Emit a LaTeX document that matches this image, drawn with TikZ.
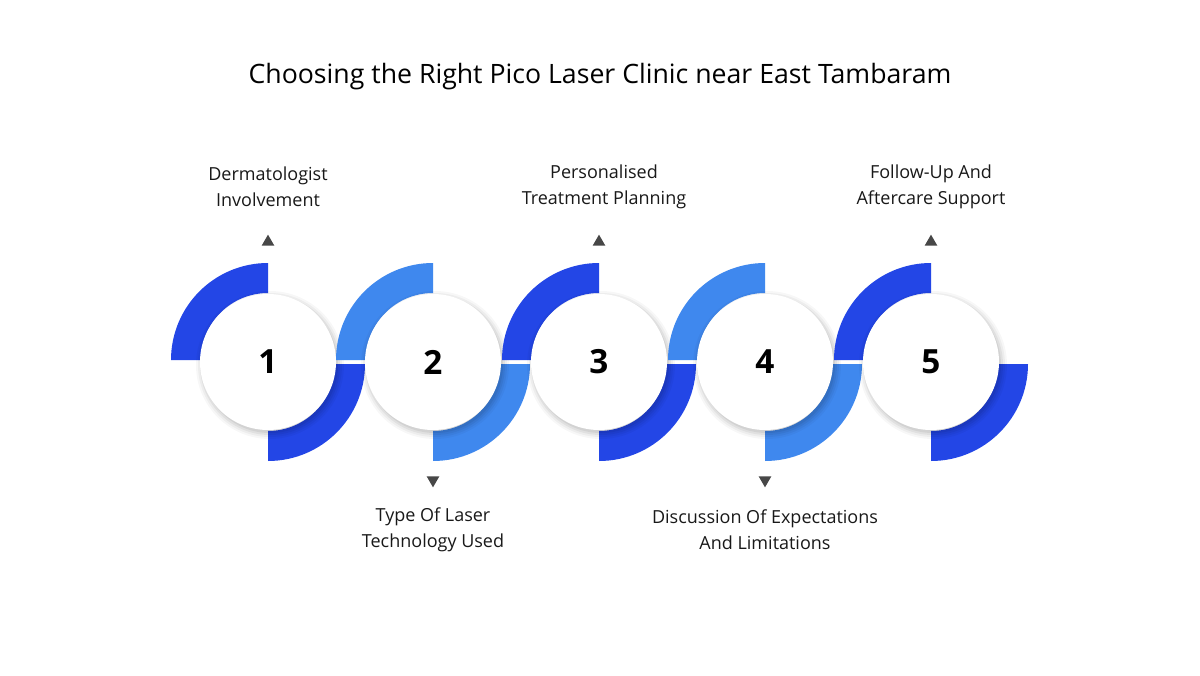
\documentclass[tikz,border=0pt]{standalone}
\usepackage{fontspec}
\setmainfont{Open Sans}
\usetikzlibrary{positioning,calc,shapes.geometric}
\definecolor{darkblue}{HTML}{2346E6}
\definecolor{lightblue}{HTML}{3F88EE}
\definecolor{tri}{HTML}{474747}
\tikzset{
  stepcircle/.style={circle, minimum size=102pt, inner sep=0, fill=white, font=\bfseries\fontsize{25}{25}\selectfont},
  steptext/.style={align=center, font=\fontsize{13.5}{19.5}\selectfont, text=black!90},
  marker/.style={regular polygon, regular polygon sides=3, fill=tri, inner sep=0, minimum size=11},
}
% quarter ring: centre, start angle, colour
\newcommand{\quart}[3]{%
  \fill[#3] ($(#1)+(#2:97)$) arc[start angle=#2, end angle=#2+90, radius=97]
    -- ($(#1)+(#2+90:67)$) arc[start angle=#2+90, end angle=#2, radius=67] -- cycle;}
\begin{document}
\begin{tikzpicture}[x=0.75pt, y=-0.75pt]
  \useasboundingbox (0,0) rectangle (1200,675);
  \fill[white] (0,0) rectangle (1200,675);
  \node[font=\fontsize{20}{24}\selectfont] (title) at (600,77) {Choosing the Right Pico Laser Clinic near East Tambaram};

  \foreach \i/\x/\col in {1/268/darkblue, 2/433/lightblue, 3/599/darkblue, 4/765/lightblue, 5/931/darkblue} {
    \coordinate (t\i) at (\x,360);
    \coordinate (b\i) at (\x,364);
    \quart{t\i}{180}{\col}
    \quart{b\i}{0}{\col}
    % soft shadow
    \foreach \r/\o in {74/0.03, 72/0.04, 70/0.05, 68/0.06}
      \fill[black, opacity=\o] (\x+2,365) circle[radius=\r];
    \node[stepcircle] (c\i) at (\x,362) {\i};
  }

  \node[marker] (m1) at (268,242) {};
  \node[marker] (m3) at (599,242) {};
  \node[marker] (m5) at (931,242) {};
  \node[marker, shape border rotate=180] (m2) at (433,480) {};
  \node[marker, shape border rotate=180] (m4) at (765,480) {};

  \node[steptext] (l1) at (268,187) {Dermatologist\\Involvement};
  \node[steptext] (l3) at (604,187) {Personalised\\Treatment Planning};
  \node[steptext] (l5) at (931,187) {Follow-Up And\\Aftercare Support};
  \node[steptext] (l2) at (433,530) {Type Of Laser\\Technology Used};
  \node[steptext] (l4) at (765,530) {Discussion Of Expectations\\And Limitations};
\end{tikzpicture}
\end{document}
